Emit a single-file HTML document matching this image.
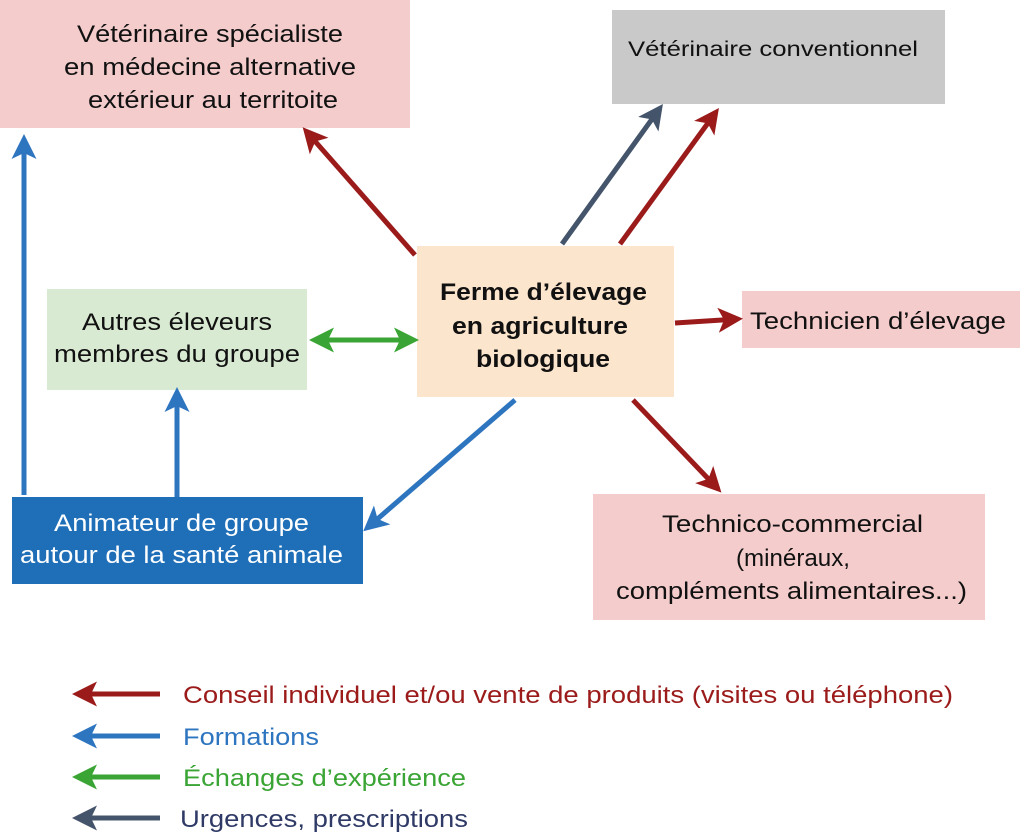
<!DOCTYPE html>
<html><head><meta charset="utf-8"><style>
body{margin:0;width:1020px;height:837px;background:#fff;overflow:hidden;font-family:"Liberation Sans",sans-serif}
</style></head><body>
<svg width="1020" height="837" xmlns="http://www.w3.org/2000/svg" style="position:absolute;left:0;top:0">
<defs>
<marker id="r" markerWidth="5" markerHeight="5" refX="4" refY="2.5" orient="auto" markerUnits="strokeWidth"><path d="M0,0 L5,2.5 L0,5 L1.2,2.5z" fill="#9b1b1b"/></marker>
<marker id="b" markerWidth="5" markerHeight="5" refX="4" refY="2.5" orient="auto" markerUnits="strokeWidth"><path d="M0,0 L5,2.5 L0,5 L1.2,2.5z" fill="#2e75c0"/></marker>
<marker id="g" markerWidth="5" markerHeight="5" refX="4" refY="2.5" orient="auto-start-reverse" markerUnits="strokeWidth"><path d="M0,0 L5,2.5 L0,5 L1.2,2.5z" fill="#3aa535"/></marker>
<marker id="n" markerWidth="5" markerHeight="5" refX="4" refY="2.5" orient="auto" markerUnits="strokeWidth"><path d="M0,0 L5,2.5 L0,5 L1.2,2.5z" fill="#44546a"/></marker>
</defs>
<rect x="0" y="0" width="410" height="128" fill="#f4cccc"/>
<rect x="612" y="10" width="333" height="94" fill="#c9c9c9"/>
<rect x="417" y="246" width="257" height="151" fill="#fce5cd"/>
<rect x="47" y="289" width="260" height="101" fill="#d9ead3"/>
<rect x="742" y="291" width="278" height="57" fill="#f4cccc"/>
<rect x="12" y="497" width="351" height="87" fill="#1f6fb8"/>
<rect x="593" y="494" width="392" height="126" fill="#f4cccc"/>
<g stroke-width="5" fill="none">
<line x1="415" y1="255" x2="306" y2="131" stroke="#9b1b1b" marker-end="url(#r)"/>
<line x1="620" y1="244" x2="716" y2="112" stroke="#9b1b1b" marker-end="url(#r)"/>
<line x1="562" y1="244" x2="660" y2="108" stroke="#44546a" marker-end="url(#n)"/>
<line x1="675" y1="323" x2="738" y2="319" stroke="#9b1b1b" marker-end="url(#r)"/>
<line x1="633" y1="400" x2="718" y2="489" stroke="#9b1b1b" marker-end="url(#r)"/>
<line x1="515" y1="400" x2="367" y2="528" stroke="#2e75c0" marker-end="url(#b)"/>
<line x1="314" y1="340" x2="414" y2="340" stroke="#3aa535" marker-start="url(#g)" marker-end="url(#g)"/>
<line x1="24" y1="495" x2="24" y2="139" stroke="#2e75c0" marker-end="url(#b)"/>
<line x1="177" y1="497" x2="177" y2="392" stroke="#2e75c0" marker-end="url(#b)"/>
<line x1="160" y1="694" x2="77" y2="694" stroke="#9b1b1b" marker-end="url(#r)"/>
<line x1="160" y1="736" x2="77" y2="736" stroke="#2e75c0" marker-end="url(#b)"/>
<line x1="160" y1="777" x2="77" y2="777" stroke="#3aa535" marker-end="url(#g)"/>
<line x1="160" y1="818" x2="77" y2="818" stroke="#44546a" marker-end="url(#n)"/>
</g>
<g font-size="24" fill="#111" lengthAdjust="spacingAndGlyphs">
<text x="77" y="42" textLength="266" lengthAdjust="spacingAndGlyphs">Vétérinaire spécialiste</text>
<text x="64" y="75" textLength="292" lengthAdjust="spacingAndGlyphs">en médecine alternative</text>
<text x="88" y="108" textLength="250" lengthAdjust="spacingAndGlyphs">extérieur au territoite</text>
<text x="628" y="56" font-size="21" textLength="290" lengthAdjust="spacingAndGlyphs">Vétérinaire conventionnel</text>
<text x="440" y="300" font-weight="bold" textLength="207" lengthAdjust="spacingAndGlyphs">Ferme d’élevage</text>
<text x="452" y="334" font-weight="bold" textLength="176" lengthAdjust="spacingAndGlyphs">en agriculture</text>
<text x="476" y="367" font-weight="bold" textLength="134" lengthAdjust="spacingAndGlyphs">biologique</text>
<text x="82" y="330" textLength="190" lengthAdjust="spacingAndGlyphs">Autres éleveurs</text>
<text x="54" y="362" textLength="246" lengthAdjust="spacingAndGlyphs">membres du groupe</text>
<text x="750" y="329" textLength="256" lengthAdjust="spacingAndGlyphs">Technicien d’élevage</text>
<text x="54" y="531" fill="#fff" textLength="255" lengthAdjust="spacingAndGlyphs">Animateur de groupe</text>
<text x="20" y="563" fill="#fff" textLength="323" lengthAdjust="spacingAndGlyphs">autour de la santé animale</text>
<text x="662" y="532" textLength="261" lengthAdjust="spacingAndGlyphs">Technico-commercial</text>
<text x="736" y="566" textLength="114" lengthAdjust="spacingAndGlyphs">(minéraux,</text>
<text x="616" y="599" textLength="351" lengthAdjust="spacingAndGlyphs">compléments alimentaires...)</text>
<text x="183" y="703" fill="#9b1b1b" textLength="770" lengthAdjust="spacingAndGlyphs">Conseil individuel et/ou vente de produits (visites ou téléphone)</text>
<text x="183" y="745" fill="#2e75c0" textLength="136" lengthAdjust="spacingAndGlyphs">Formations</text>
<text x="183" y="786" fill="#3aa535" textLength="283" lengthAdjust="spacingAndGlyphs">Échanges d’expérience</text>
<text x="180" y="827" fill="#2f3a66" textLength="288" lengthAdjust="spacingAndGlyphs">Urgences, prescriptions</text>
</g>
</svg>
</body></html>
